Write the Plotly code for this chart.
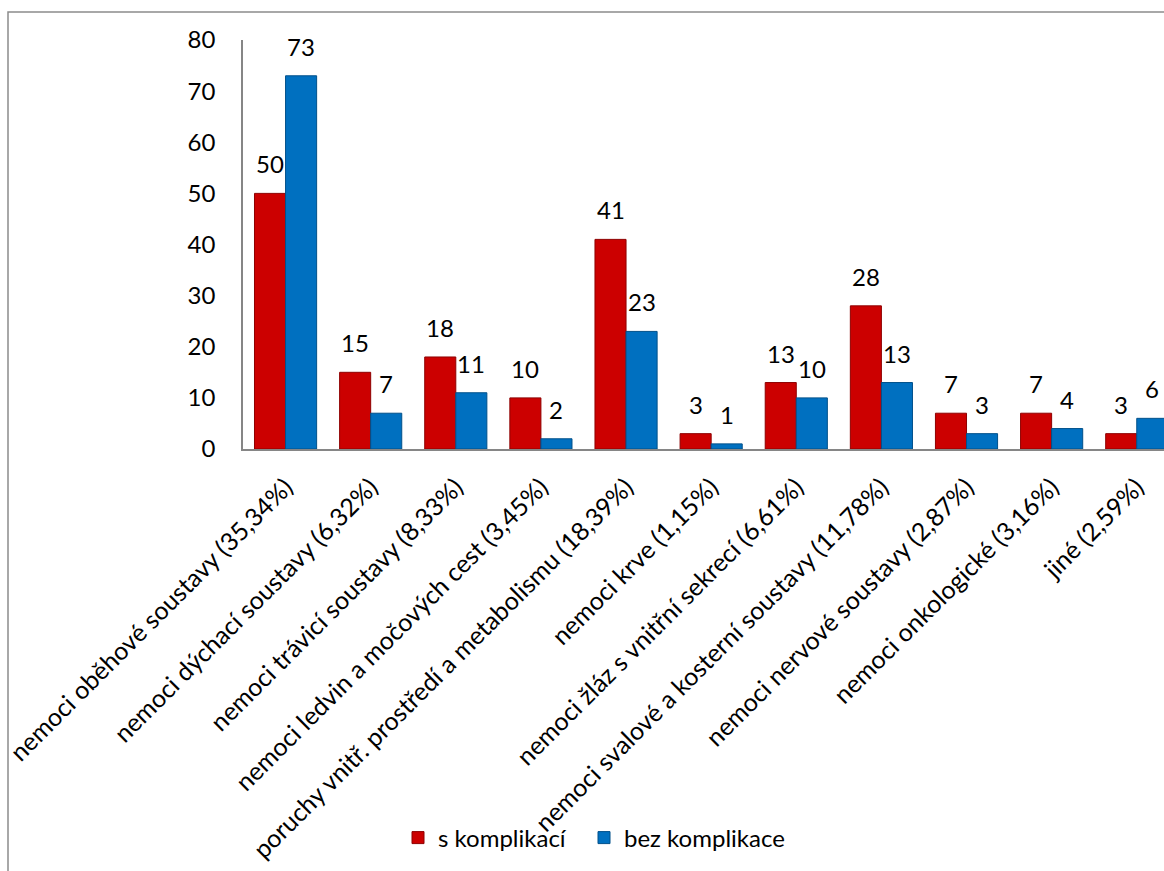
import plotly.graph_objects as go

categories = [
    "nemoci oběhové soustavy (35,34%)",
    "nemoci dýchací soustavy (6,32%)",
    "nemoci trávicí soustavy (8,33%)",
    "nemoci ledvin a močových cest (3,45%)",
    "poruchy vnitř. prostředí a metabolismu (18,39%)",
    "nemoci krve (1,15%)",
    "nemoci žláz s vnitřní sekrecí (6,61%)",
    "nemoci svalové a kosterní soustavy (11,78%)",
    "nemoci nervové soustavy (2,87%)",
    "nemoci onkologické (3,16%)",
    "jiné (2,59%)",
]
s_komplikaci = [50, 15, 18, 10, 41, 3, 13, 28, 7, 7, 3]
bez_komplikace = [73, 7, 11, 2, 23, 1, 10, 13, 3, 4, 6]
y_ticks = [0, 10, 20, 30, 40, 50, 60, 70, 80]

FONT = "Lato, 'Open Sans', sans-serif"
FS = 24
W, H = 1164, 871
ML, MT, MB, MR = 243, 40, 422, 0
plot_w = W - ML - MR
plot_h = H - MT - MB
n_vis = 10.82  # categories visible across plot width (chart cropped at right)
cat_px = plot_w / n_vis
bar_px = 0.365 * cat_px

fig = go.Figure()
fig.add_trace(go.Bar(
    name="s komplikací", x=categories, y=s_komplikaci, legend="legend",
    marker=dict(color="#CC0000", line=dict(color="#8E0000", width=1)),
))
fig.add_trace(go.Bar(
    name="bez komplikace", x=categories, y=bez_komplikace, legend="legend2",
    marker=dict(color="#0070C0", line=dict(color="#00508A", width=1)),
))

annotations = []
for vals, sgn in ((s_komplikaci, -1), (bez_komplikace, 1)):
    for c, v in zip(categories, vals):
        annotations.append(dict(
            x=c, y=v, xref="x", yref="y", text=str(v), showarrow=False,
            xanchor="center", yanchor="bottom", xshift=sgn * bar_px / 2,
            yshift=13, font=dict(family=FONT, size=FS, color="#000000"),
        ))

# outer chart border (cropped at right/bottom)
x0 = (8 - ML) / plot_w
y1 = (H - MB - 12) / plot_h
fig.add_shape(type="rect", xref="paper", yref="paper", x0=x0, x1=3, y0=-3, y1=y1,
              line=dict(color="#8C8C8C", width=1.5), fillcolor="rgba(0,0,0,0)", layer="below")

leg_y = -(838 - (H - MB)) / plot_h
leg_common = dict(orientation="h", xanchor="left", y=leg_y, yanchor="middle",
                  font=dict(family=FONT, size=FS), itemwidth=30, bgcolor="rgba(0,0,0,0)")

fig.update_layout(
    width=W, height=H,
    margin=dict(l=ML, r=MR, t=MT, b=MB, pad=0),
    paper_bgcolor="white", plot_bgcolor="white",
    barmode="group", bargap=0.27, bargroupgap=0,
    font=dict(family=FONT, size=FS, color="#000000"),
    annotations=annotations,
    showlegend=True,
    legend=dict(x=(398 - ML) / plot_w, **leg_common),
    legend2=dict(x=(584 - ML) / plot_w, **leg_common),
    xaxis=dict(range=[-0.5, -0.5 + n_vis], showline=True, linecolor="#868686", linewidth=1.5,
               ticks="", tickangle=-45, showgrid=False, tickfont=dict(family=FONT, size=25),
               ticklabelstandoff=12),
    yaxis=dict(range=[0, 80], tickvals=y_ticks, showline=True, linecolor="#868686", linewidth=1.5,
               ticks="", showgrid=False, zeroline=False, tickfont=dict(family=FONT, size=FS),
               ticklabelstandoff=21),
)

fig.write_html("out.html")
